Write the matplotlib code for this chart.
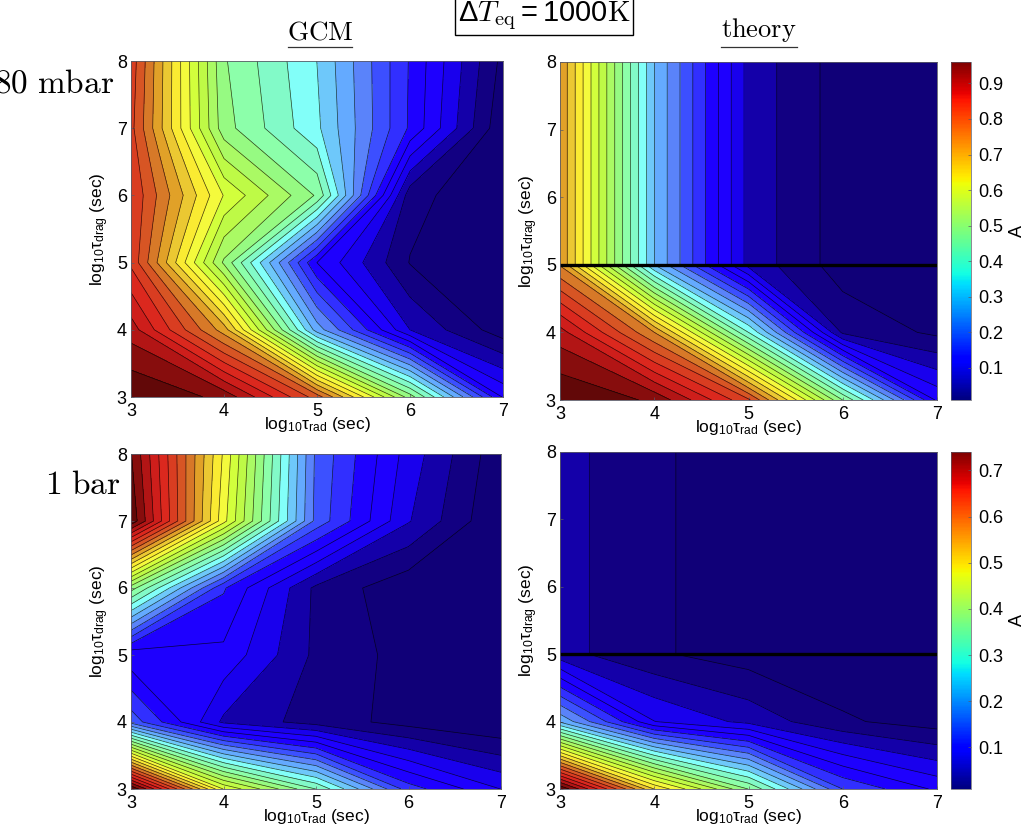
#!/usr/bin/env python3
import numpy as np
import matplotlib
matplotlib.use("Agg")
import matplotlib.pyplot as plt
from matplotlib.cm import ScalarMappable
from matplotlib.colors import LinearSegmentedColormap, Normalize

plt.rcParams["font.family"] = ["Liberation Sans", "DejaVu Sans"]
plt.rcParams["mathtext.default"] = "regular"

log_rad = [3, 4, 5, 6, 7]
log_drag = [3, 4, 5, 6, 7, 8]

# rows go from log_drag = 3 up to 8, columns follow log_rad
gcm_80mbar = [
    [0.960, 0.919, 0.755, 0.469, 0.165],
    [0.881, 0.691, 0.311, 0.105, 0.023],
    [0.795, 0.479, 0.168, 0.040, 0.013],
    [0.799, 0.578, 0.449, 0.054, 0.010],
    [0.780, 0.466, 0.365, 0.195, 0.016],
    [0.789, 0.457, 0.358, 0.197, 0.032],
]
theory_80mbar = [
    [0.960, 0.922, 0.776, 0.453, 0.162],
    [0.879, 0.707, 0.390, 0.067, 0.035],
    [0.704, 0.327, 0.094, 0.025, 0.013],
    [0.704, 0.327, 0.094, 0.025, 0.013],
    [0.704, 0.327, 0.094, 0.025, 0.013],
    [0.704, 0.327, 0.094, 0.025, 0.013],
]
gcm_1bar = [
    [0.739, 0.447, 0.326, 0.168, 0.107],
    [0.195, 0.078, 0.048, 0.025, 0.011],
    [0.113, 0.125, 0.053, 0.025, 0.015],
    [0.362, 0.159, 0.053, 0.016, 0.012],
    [0.734, 0.457, 0.197, 0.085, 0.010],
    [0.717, 0.469, 0.200, 0.097, 0.017],
]
theory_1bar = [
    [0.739, 0.496, 0.350, 0.180, 0.127],
    [0.249, 0.108, 0.076, 0.038, 0.023],
    [0.068, 0.038, 0.022, 0.015, 0.011],
    [0.068, 0.038, 0.022, 0.015, 0.011],
    [0.068, 0.038, 0.022, 0.015, 0.011],
    [0.068, 0.038, 0.022, 0.015, 0.011],
]

range_80mbar = (0.01, 0.96)
range_1bar = (0.01, 0.74)
cbar_ticks_80mbar = [0.1, 0.2, 0.3, 0.4, 0.5, 0.6, 0.7, 0.8, 0.9]
cbar_ticks_1bar = [0.1, 0.2, 0.3, 0.4, 0.5, 0.6, 0.7]
n_levels = 30

# the filled bands are paler than a plain jet, colours picked off the picture
fill_stops = [0.0, 0.05, 0.083, 0.117, 0.15, 0.183, 0.217, 0.25, 0.283, 0.317, 0.35, 0.383, 0.417,
              0.45, 0.483, 0.517, 0.55, 0.583, 0.617, 0.65, 0.683, 0.717, 0.75, 0.79, 0.85, 0.9,
              0.94, 0.97, 1.0]
fill_rgb = [(15, 0, 115), (18, 0, 130), (20, 0, 170), (25, 0, 240), (30, 0, 255), (30, 0, 255),
            (50, 50, 255), (60, 80, 255), (90, 130, 250), (100, 170, 255), (110, 200, 250),
            (130, 255, 250), (130, 250, 200), (140, 255, 170), (150, 250, 130), (170, 250, 100),
            (190, 250, 70), (210, 255, 60), (245, 250, 60), (250, 235, 50), (235, 200, 50),
            (225, 160, 40), (215, 120, 40), (215, 80, 35), (220, 40, 30), (200, 25, 25),
            (150, 15, 15), (110, 10, 10), (85, 5, 5)]
fill_cmap = LinearSegmentedColormap.from_list(
    "bands", [(s, tuple(c / 255 for c in rgb)) for s, rgb in zip(fill_stops, fill_rgb)], N=512)

W, H = 1024, 832
FRAME = "#5a5a66"


def place(fig, x0, y0, x1, y1):
    # pixel box from the top left corner of the picture
    return fig.add_axes([x0 / W, 1 - y1 / H, (x1 - x0) / W, (y1 - y0) / H])


def panel(fig, box, data, lims, is_theory):
    ax = place(fig, *box)
    levels = np.linspace(lims[0], lims[1], n_levels + 1)
    z = np.array(data)
    ax.contourf(log_rad, log_drag, z, levels=levels, cmap=fill_cmap, vmin=lims[0], vmax=lims[1], extend="both")
    ax.contour(log_rad, log_drag, z, levels=levels[1:-1], colors="k", linewidths=0.5, alpha=0.75)
    if is_theory:
        ax.axhline(5, color="k", lw=2.4)
    ax.set_xticks(log_rad)
    ax.set_yticks(log_drag)
    ax.tick_params(direction="in", length=2.5, width=0.5, color=FRAME, labelsize=13, pad=3)
    ax.tick_params(axis="x", pad=4)
    ax.set_xlabel("log$_{10}$τ$_{rad}$ (sec)", fontsize=12.5, labelpad=-3)
    ax.set_ylabel("log$_{10}$τ$_{drag}$ (sec)", fontsize=12.5, labelpad=4)
    for s in ax.spines.values():
        s.set_linewidth(0.6)
        s.set_color(FRAME)
    return ax


def colorbar(fig, box, lims, ticks):
    cax = place(fig, *box)
    sm = ScalarMappable(norm=Normalize(*lims), cmap="jet")
    cb = fig.colorbar(sm, cax=cax)
    cb.set_ticks(ticks)
    cb.ax.tick_params(direction="in", length=2.5, width=0.5, color=FRAME, labelsize=13, pad=5)
    cb.set_label("A", fontsize=13, labelpad=4)
    cb.outline.set_linewidth(0.5)
    cb.outline.set_edgecolor(FRAME)


def main():
    fig = plt.figure(figsize=(W / 100, H / 100), dpi=100)

    panel(fig, (131, 61, 503, 397), gcm_80mbar, range_80mbar, False)
    panel(fig, (560, 62, 937, 400), theory_80mbar, range_80mbar, True)
    panel(fig, (131, 454, 501, 789), gcm_1bar, range_1bar, False)
    panel(fig, (560, 452, 937, 789), theory_1bar, range_1bar, True)

    colorbar(fig, (951, 62, 971, 400), range_80mbar, cbar_ticks_80mbar)
    colorbar(fig, (951, 452, 971, 789), range_1bar, cbar_ticks_1bar)

    cm = {"math_fontfamily": "cm", "ha": "center", "va": "center", "color": "k"}
    fig.text(320 / W, 1 - 33 / H, r"$\mathrm{GCM}$", fontsize=19.5, **cm)
    fig.text(759 / W, 1 - 30 / H, r"$\mathrm{theory}$", fontsize=19, **cm)
    fig.add_artist(plt.Line2D([288 / W, 352 / W], [1 - 47 / H] * 2, color="#333333", lw=0.9))
    fig.add_artist(plt.Line2D([721 / W, 797 / W], [1 - 47 / H] * 2, color="#333333", lw=0.9))
    fig.text(54 / W, 1 - 84 / H, r"$\mathrm{80\ mbar}$", fontsize=24, **cm)
    fig.text(82.5 / W, 1 - 485 / H, r"$\mathrm{1\ bar}$", fontsize=24, **cm)
    fig.text(544 / W, 1 - 16 / H, r"$\Delta \mathit{T}_{\mathrm{eq}} = 1000\mathrm{K}$", fontsize=21,
             bbox=dict(facecolor="white", edgecolor="k", linewidth=1.0, boxstyle="square,pad=0.1"), **cm)

    fig.savefig("out.png", dpi=100)
    plt.close(fig)


if __name__ == "__main__":
    main()
